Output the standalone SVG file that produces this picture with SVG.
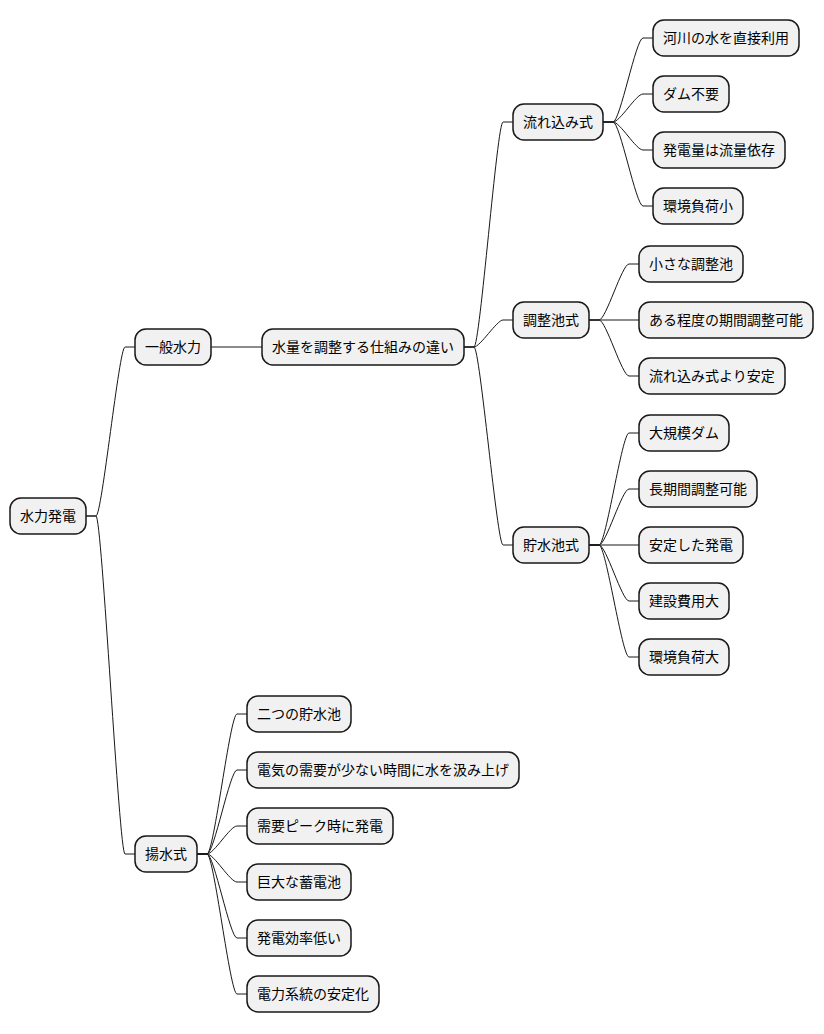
<svg xmlns="http://www.w3.org/2000/svg" width="824" height="1034" viewBox="0 0 824 1034">
<style>
.n rect{fill:#F1F1F1;stroke:#181818;stroke-width:1.5}
.n text{font-family:"Noto Sans CJK JP","Noto Sans",sans-serif;font-size:14px;fill:#000}
#connectors path{fill:none;stroke:#181818;stroke-width:1}
</style>
<rect width="824" height="1034" fill="#FFFFFF"/>
<g id="connectors">
<path d="M86,516 L96,516 C102,516 119,347 125,347 L135,347"/>
<path d="M86,516 L96,516 C102,516 119,854 125,854 L135,854"/>
<path d="M211,347 L262,347"/>
<path d="M464,347 L474,347 C480,347 497,122 503,122 L513,122"/>
<path d="M464,347 L474,347 C480,347 497,320 503,320 L513,320"/>
<path d="M464,347 L474,347 C480,347 497,545 503,545 L513,545"/>
<path d="M603,122 L613,122 C620,122 636,38 643,38 L653,38"/>
<path d="M603,122 L613,122 C620,122 636,94 643,94 L653,94"/>
<path d="M603,122 L613,122 C620,122 636,150 643,150 L653,150"/>
<path d="M603,122 L613,122 C620,122 636,206 643,206 L653,206"/>
<path d="M589,320 L599,320 C606,320 622,264 629,264 L639,264"/>
<path d="M589,320 L639,320"/>
<path d="M589,320 L599,320 C606,320 622,376 629,376 L639,376"/>
<path d="M589,545 L599,545 C606,545 622,433 629,433 L639,433"/>
<path d="M589,545 L599,545 C606,545 622,489 629,489 L639,489"/>
<path d="M589,545 L639,545"/>
<path d="M589,545 L599,545 C606,545 622,601 629,601 L639,601"/>
<path d="M589,545 L599,545 C606,545 622,657 629,657 L639,657"/>
<path d="M197,854 L207,854 C214,854 230,714 237,714 L247,714"/>
<path d="M197,854 L207,854 C214,854 230,770 237,770 L247,770"/>
<path d="M197,854 L207,854 C214,854 230,826 237,826 L247,826"/>
<path d="M197,854 L207,854 C214,854 230,882 237,882 L247,882"/>
<path d="M197,854 L207,854 C214,854 230,938 237,938 L247,938"/>
<path d="M197,854 L207,854 C214,854 230,994 237,994 L247,994"/>
</g>
<g id="root" class="n"><rect x="10" y="498" width="76" height="36" rx="11"/><text x="20" y="521">水力発電</text></g>
<g id="ippan" class="n"><rect x="135" y="329" width="76" height="36" rx="11"/><text x="145" y="352">一般水力</text></g>
<g id="shikumi" class="n"><rect x="262" y="329" width="202" height="36" rx="11"/><text x="272" y="352">水量を調整する仕組みの違い</text></g>
<g id="nagarekomi" class="n"><rect x="513" y="104" width="90" height="36" rx="11"/><text x="523" y="127">流れ込み式</text></g>
<g id="n1" class="n"><rect x="653" y="20" width="146" height="36" rx="11"/><text x="663" y="43">河川の水を直接利用</text></g>
<g id="n2" class="n"><rect x="653" y="76" width="76" height="36" rx="11"/><text x="663" y="99">ダム不要</text></g>
<g id="n3" class="n"><rect x="653" y="132" width="132" height="36" rx="11"/><text x="663" y="155">発電量は流量依存</text></g>
<g id="n4" class="n"><rect x="653" y="188" width="90" height="36" rx="11"/><text x="663" y="211">環境負荷小</text></g>
<g id="chouseichi" class="n"><rect x="513" y="302" width="76" height="36" rx="11"/><text x="523" y="325">調整池式</text></g>
<g id="c1" class="n"><rect x="639" y="246" width="104" height="36" rx="11"/><text x="649" y="269">小さな調整池</text></g>
<g id="c2" class="n"><rect x="639" y="302" width="174" height="36" rx="11"/><text x="649" y="325">ある程度の期間調整可能</text></g>
<g id="c3" class="n"><rect x="639" y="358" width="146" height="36" rx="11"/><text x="649" y="381">流れ込み式より安定</text></g>
<g id="chosuichi" class="n"><rect x="513" y="527" width="76" height="36" rx="11"/><text x="523" y="550">貯水池式</text></g>
<g id="s1" class="n"><rect x="639" y="415" width="90" height="36" rx="11"/><text x="649" y="438">大規模ダム</text></g>
<g id="s2" class="n"><rect x="639" y="471" width="118" height="36" rx="11"/><text x="649" y="494">長期間調整可能</text></g>
<g id="s3" class="n"><rect x="639" y="527" width="104" height="36" rx="11"/><text x="649" y="550">安定した発電</text></g>
<g id="s4" class="n"><rect x="639" y="583" width="90" height="36" rx="11"/><text x="649" y="606">建設費用大</text></g>
<g id="s5" class="n"><rect x="639" y="639" width="90" height="36" rx="11"/><text x="649" y="662">環境負荷大</text></g>
<g id="yousui" class="n"><rect x="135" y="836" width="62" height="36" rx="11"/><text x="145" y="859">揚水式</text></g>
<g id="y1" class="n"><rect x="247" y="696" width="104" height="36" rx="11"/><text x="257" y="719">二つの貯水池</text></g>
<g id="y2" class="n"><rect x="247" y="752" width="272" height="36" rx="11"/><text x="257" y="775">電気の需要が少ない時間に水を汲み上げ</text></g>
<g id="y3" class="n"><rect x="247" y="808" width="146" height="36" rx="11"/><text x="257" y="831">需要ピーク時に発電</text></g>
<g id="y4" class="n"><rect x="247" y="864" width="104" height="36" rx="11"/><text x="257" y="887">巨大な蓄電池</text></g>
<g id="y5" class="n"><rect x="247" y="920" width="104" height="36" rx="11"/><text x="257" y="943">発電効率低い</text></g>
<g id="y6" class="n"><rect x="247" y="976" width="132" height="36" rx="11"/><text x="257" y="999">電力系統の安定化</text></g>
</svg>
